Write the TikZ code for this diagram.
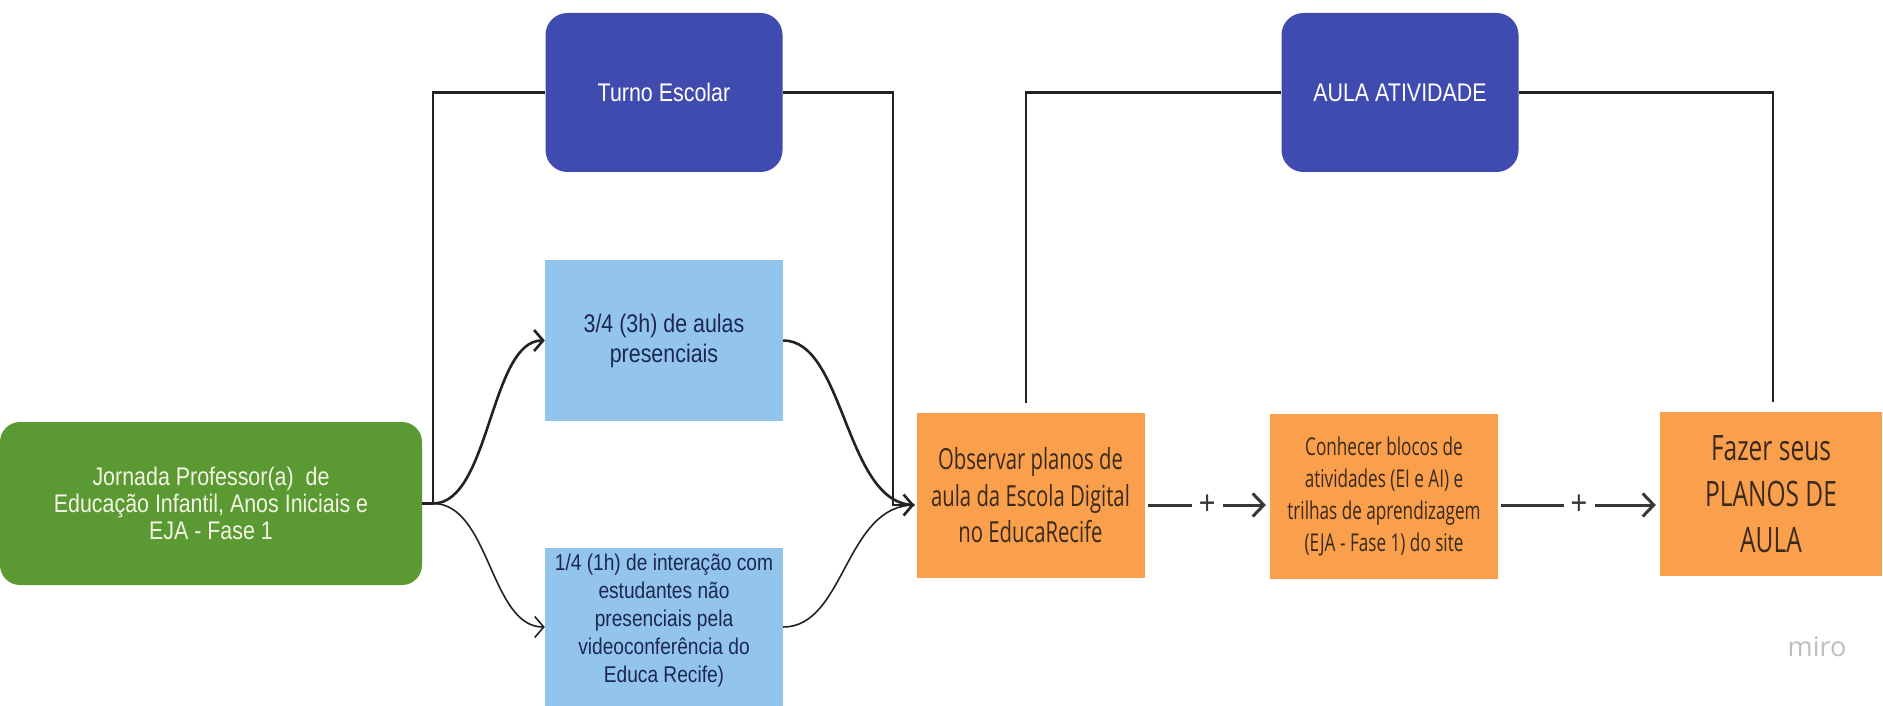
\documentclass[tikz,border=0pt]{standalone}
\usepackage{fontspec}
\usetikzlibrary{arrows.meta}
\newfontfamily\arialf{Liberation Sans}[FakeStretch=0.84]
\newfontfamily\notef{Open Sans}[FakeStretch=0.7]
\newfontfamily\mirof{Open Sans}
\definecolor{gfill}{RGB}{91,153,51}
\definecolor{gtext}{RGB}{242,244,228}
\definecolor{dblue}{RGB}{64,75,175}
\definecolor{lblue}{RGB}{146,196,236}
\definecolor{ltext}{RGB}{28,40,80}
\definecolor{ofill}{RGB}{250,160,76}
\definecolor{otext}{RGB}{58,42,30}
\definecolor{lc}{RGB}{34,34,34}
\definecolor{pc}{RGB}{55,55,55}
\definecolor{mirogray}{RGB}{190,190,190}
\pgfdeclarelayer{background}
\pgfsetlayers{background,main}
\begin{document}
\begin{tikzpicture}[x=1pt,y=-1pt,
  box/.style={draw=none, inner sep=0pt, align=center, anchor=center},
  greenbox/.style={box, fill=gfill, rounded corners=20pt, minimum width=422pt, minimum height=163pt, text=gtext, font=\arialf\fontsize{25.5}{27}\selectfont},
  darkbox/.style={box, fill=dblue, rounded corners=22pt, minimum width=237pt, minimum height=159pt, text=white, font=\arialf\fontsize{25.5}{28}\selectfont},
  lightbox/.style={box, fill=lblue, minimum width=238pt, text=ltext},
  note/.style={box, fill=ofill, text=otext, minimum width=228pt, minimum height=165pt},
  conn/.style={draw=lc, line width=2.6pt},
  thinconn/.style={draw=lc, line width=1.6pt},
  arr/.style={-{Straight Barb[length=9pt,width=21pt]}},
  plusconn/.style={draw=pc, line width=3pt, shorten <=3pt, shorten >=4pt, -{Straight Barb[length=11pt,width=23pt]}},
  plus/.style={fill=white, inner sep=0pt, minimum width=31pt, minimum height=26pt, text=pc, font=\arialf\fontsize{34}{34}\selectfont}
]
\useasboundingbox[fill=white] (0,0) rectangle (1883,706);

% nodes
\node[greenbox] (green) at (211,503.5) {Jornada Professor(a)\ \ de\\Educação Infantil, Anos Iniciais e\\EJA - Fase 1};
\node[darkbox] (turno) at (664,92.5) {Turno Escolar};
\node[darkbox] (aula) at (1400,92.5) {AULA ATIVIDADE};
\node[lightbox, minimum height=161pt, font=\arialf\fontsize{25.5}{30}\selectfont] (b1) at (664,340.5) {3/4 (3h) de aulas\\presenciais};
\node[lightbox, minimum height=158pt] (b2) at (664,627) {};
\node[box, text=ltext, font=\arialf\fontsize{22.8}{28}\selectfont] (b2t) at (664,621) {1/4 (1h) de interação com\\estudantes não\\presenciais pela\\videoconferência do\\Educa Recife)};
\node[note, font=\notef\fontsize{29}{36.5}\selectfont] (obs) at (1030.5,495.5) {Observar planos de\\aula da Escola Digital\\no EducaRecife};
\node[note, font=\notef\fontsize{24.5}{32}\selectfont] (con) at (1384,496.5) {Conhecer blocos de\\atividades (EI e AI) e\\trilhas de aprendizagem\\(EJA - Fase 1) do site};
\node[note, minimum width=222pt, minimum height=164pt, font=\notef\fontsize{35}{46}\selectfont] (faz) at (1771,494) {Fazer seus\\PLANOS DE\\AULA};
\node[text=mirogray, inner sep=0pt, font=\mirof\fontsize{27}{27}\selectfont] (miro) at (1817,647) {miro};

\coordinate (br) at (433,503.5);
\coordinate (mg) at (893,505);

% shadows under sticky notes
\begin{pgfonlayer}{background}
\foreach \n in {obs,con,faz}{
  \foreach \k in {2,4,...,16}{
    \fill[black,opacity=0.07] ([xshift=8pt,yshift=4pt]\n.south west) rectangle ([xshift=-8pt,yshift=-\k pt]\n.south east);
  }
}
\end{pgfonlayer}

% connectors
\draw[conn] (green.east) -- (br) |- (turno.west);
\draw[conn, arr] (br) .. controls (490,503.5) and (490,340.5) .. (b1.west);
\draw[thinconn, arr] (br) .. controls (490,503.5) and (490,627) .. (b2.west);
\draw[conn, arr, shorten >=2pt] (turno.east) -| (mg) -- (obs.west |- mg);
\draw[conn, shorten >=2pt] (b1.east) .. controls (845,340.5) and (845,505) .. (obs.west |- mg);
\draw[thinconn, shorten >=2pt] (b2.east) .. controls (845,627) and (845,505) .. (obs.west |- mg);
\draw[conn] (aula.west) -| ([xshift=-4.5pt,yshift=10pt]obs.north);
\draw[conn] (aula.east) -| ([xshift=2pt,yshift=10pt]faz.north);
\draw[plusconn] (obs.east |- mg) -- node[plus] (p1) {+} (con.west |- mg);
\draw[plusconn] (con.east |- mg) -- node[plus] (p2) {+} (faz.west |- mg);
\end{tikzpicture}
\end{document}
